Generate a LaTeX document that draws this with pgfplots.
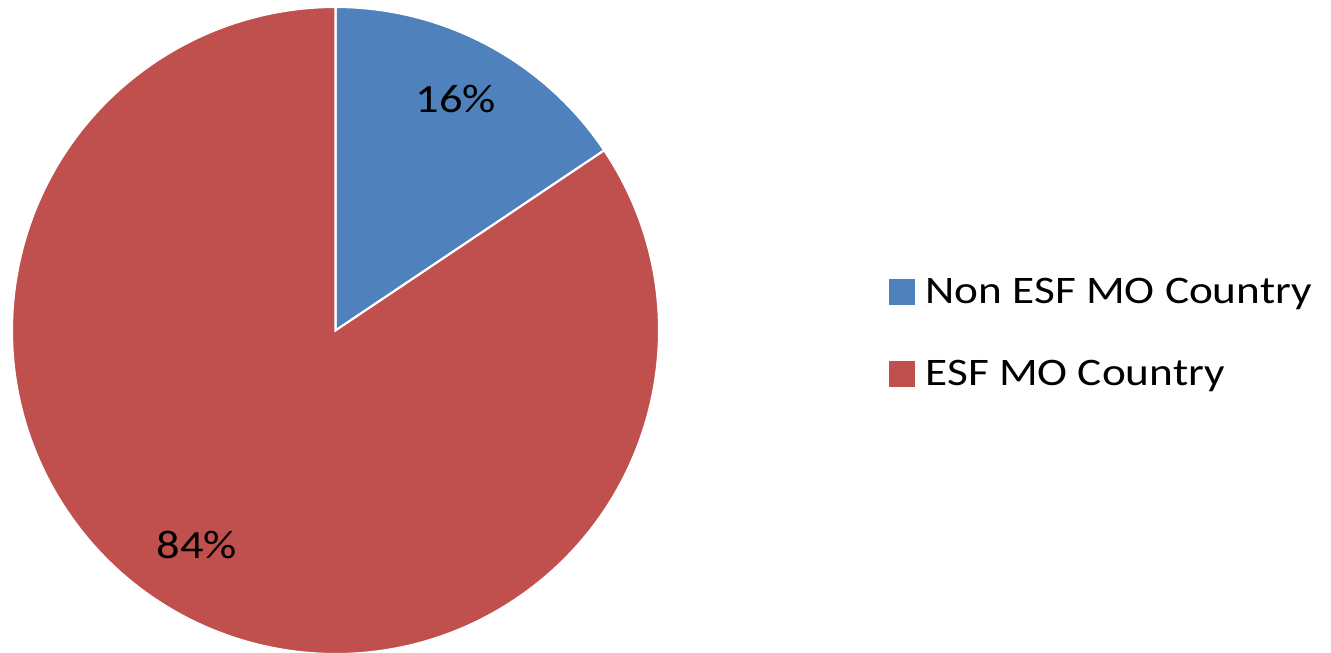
\documentclass[border=0pt]{standalone}
\usepackage{pgfplots}
\usepackage{pgfplotstable}
\pgfplotsset{compat=1.18}
\usepackage{fontspec}
\setmainfont{Carlito}[FakeStretch=1.16]

\definecolor{pieblue}{HTML}{4F81BD}
\definecolor{piered}{HTML}{C0504D}

% share of respondents (percent)
\pgfplotstableread{
group value
NonESF 15.6
ESF 84.4
}\piedata

\pgfplotstablegetelem{0}{value}\of\piedata
\let\vblue\pgfplotsretval
\pgfplotstablegetelem{1}{value}\of\piedata
\let\vred\pgfplotsretval
\pgfmathsetmacro{\aend}{90-3.6*\vblue}
\pgfmathsetmacro{\rend}{\aend-3.6*\vred}

\begin{document}
\begin{tikzpicture}
\begin{axis}[
    scale only axis,
    width=13.31cm,
    height=6.53cm,
    xmin=0, xmax=1331,
    ymin=0, ymax=653,
    hide axis,
    clip=false,
    legend style={draw=none, fill=none, at={(axis cs:878,317)}, anchor=west,
        row sep=4.9mm,
        /tikz/every odd column/.style={column sep=1.1mm},
        nodes={inner sep=0pt, text height=2.5mm, text depth=0.8mm,
               font=\fontsize{11.1}{13}\selectfont}},
    legend cell align=left,
]
% pie centre (335.5,322.5), radius 323.5
\fill[pieblue, draw=white, line width=0.6pt] (axis cs:335.5,322.5) -- (axis cs:335.5,646)
    arc[start angle=90, end angle=\aend, radius=323.5] -- cycle;
\fill[piered, draw=white, line width=0.6pt] (axis cs:335.5,322.5)
    -- (axis cs:{335.5+323.5*cos(\aend)},{322.5+323.5*sin(\aend)})
    arc[start angle=\aend, end angle=\rend, radius=323.5] -- cycle;
\node[anchor=base, font=\fontsize{11.4}{13}\selectfont] at (axis cs:456,540)
    {\pgfmathprintnumber[fixed,precision=0,assume math mode=true]{\vblue}\%};
\node[anchor=base, font=\fontsize{11.4}{13}\selectfont] at (axis cs:197,94)
    {\pgfmathprintnumber[fixed,precision=0,assume math mode=true]{\vred}\%};
\addlegendimage{legend image code/.code={\fill[pieblue] (0mm,-0.9mm) rectangle (2.4mm,1.5mm);}}
\addlegendentry{Non ESF MO Country}
\addlegendimage{legend image code/.code={\fill[piered] (0mm,-0.9mm) rectangle (2.4mm,1.5mm);}}
\addlegendentry{ESF MO Country}
\end{axis}
\pgfresetboundingbox
\path[use as bounding box] (current axis.south west) rectangle (current axis.north east);
\end{tikzpicture}
\end{document}
